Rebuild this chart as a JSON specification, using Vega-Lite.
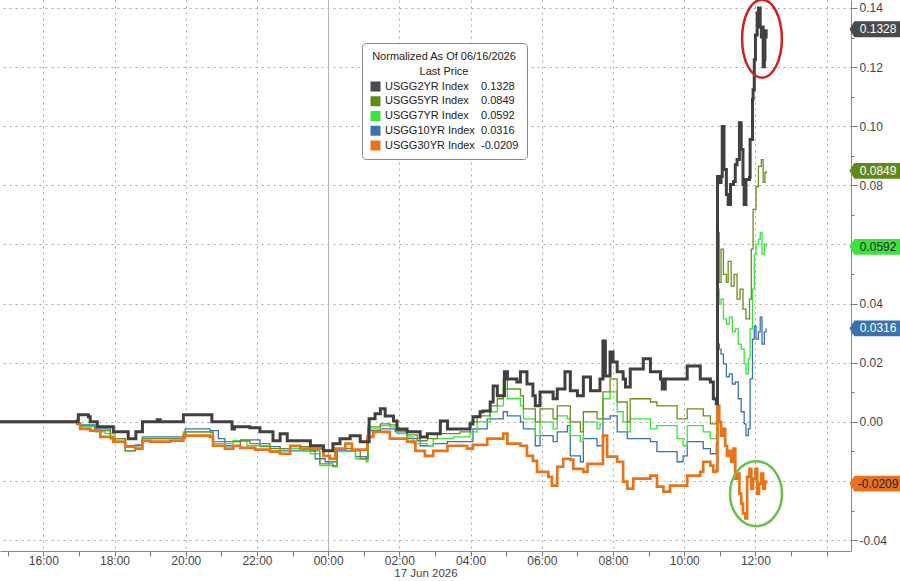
{
"$schema":"https://vega.github.io/schema/vega-lite/v6.json",
"width":851,"height":551,
"autosize":{"type":"none"},
"padding":{"left":0,"top":0,"right":49,"bottom":30},
"background":"white",
"config":{"view":{"stroke":null},"font":"Liberation Sans","axis":{"labelFont":"Liberation Sans Narrow, Liberation Sans","titleFont":"Liberation Sans Narrow, Liberation Sans"}},
"resolve":{"axis":{"x":"independent","y":"independent"}},
"datasets":{
"y2":[{"t":"2026-06-16T14:47","v":0},{"t":"2026-06-16T16:57","v":0.0003},{"t":"2026-06-16T16:59","v":0.0024},{"t":"2026-06-16T17:16","v":0.0017},{"t":"2026-06-16T17:19","v":0},{"t":"2026-06-16T17:31","v":-0.0017},{"t":"2026-06-16T17:58","v":-0.0034},{"t":"2026-06-16T18:23","v":-0.0057},{"t":"2026-06-16T18:36","v":-0.0034},{"t":"2026-06-16T18:47","v":0},{"t":"2026-06-16T19:12","v":0.0007},{"t":"2026-06-16T19:17","v":0},{"t":"2026-06-16T19:54","v":0},{"t":"2026-06-16T19:56","v":0.0024},{"t":"2026-06-16T20:41","v":0.0024},{"t":"2026-06-16T20:44","v":0},{"t":"2026-06-16T21:15","v":0},{"t":"2026-06-16T21:18","v":-0.0024},{"t":"2026-06-16T21:22","v":-0.0017},{"t":"2026-06-16T21:45","v":-0.0017},{"t":"2026-06-16T21:48","v":-0.002},{"t":"2026-06-16T22:05","v":-0.0034},{"t":"2026-06-16T22:27","v":-0.0064},{"t":"2026-06-16T22:39","v":-0.004},{"t":"2026-06-16T22:51","v":-0.0064},{"t":"2026-06-16T23:30","v":-0.0081},{"t":"2026-06-16T23:52","v":-0.0098},{"t":"2026-06-17T00:03","v":-0.0098},{"t":"2026-06-17T00:08","v":-0.0074},{"t":"2026-06-17T00:20","v":-0.0057},{"t":"2026-06-17T00:37","v":-0.0047},{"t":"2026-06-17T00:54","v":-0.0067},{"t":"2026-06-17T01:07","v":-0.0067},{"t":"2026-06-17T01:09","v":0.001},{"t":"2026-06-17T01:19","v":0.0027},{"t":"2026-06-17T01:28","v":0.0044},{"t":"2026-06-17T01:36","v":0.002},{"t":"2026-06-17T01:50","v":0.0003},{"t":"2026-06-17T01:56","v":-0.0024},{"t":"2026-06-17T02:13","v":-0.0034},{"t":"2026-06-17T02:35","v":-0.0051},{"t":"2026-06-17T02:47","v":-0.004},{"t":"2026-06-17T03:09","v":0.0003},{"t":"2026-06-17T03:21","v":-0.0024},{"t":"2026-06-17T03:54","v":-0.0024},{"t":"2026-06-17T03:59","v":-0.0007},{"t":"2026-06-17T04:04","v":0.0017},{"t":"2026-06-17T04:16","v":0.0034},{"t":"2026-06-17T04:21","v":0.0037},{"t":"2026-06-17T04:33","v":0.0067},{"t":"2026-06-17T04:38","v":0.0121},{"t":"2026-06-17T04:45","v":0.0088},{"t":"2026-06-17T04:55","v":0.0088},{"t":"2026-06-17T04:57","v":0.0169},{"t":"2026-06-17T05:02","v":0.0145},{"t":"2026-06-17T05:18","v":0.0135},{"t":"2026-06-17T05:24","v":0.0169},{"t":"2026-06-17T05:29","v":0.0169},{"t":"2026-06-17T05:35","v":0.0128},{"t":"2026-06-17T05:45","v":0.0088},{"t":"2026-06-17T05:49","v":0.0054},{"t":"2026-06-17T05:57","v":0.0101},{"t":"2026-06-17T06:19","v":0.0078},{"t":"2026-06-17T06:26","v":0.0111},{"t":"2026-06-17T06:36","v":0.0111},{"t":"2026-06-17T06:39","v":0.0169},{"t":"2026-06-17T06:48","v":0.0105},{"t":"2026-06-17T07:00","v":0.0088},{"t":"2026-06-17T07:10","v":0.0152},{"t":"2026-06-17T07:22","v":0.0105},{"t":"2026-06-17T07:33","v":0.0105},{"t":"2026-06-17T07:38","v":0.0145},{"t":"2026-06-17T07:43","v":0.0273},{"t":"2026-06-17T07:47","v":0.0155},{"t":"2026-06-17T07:55","v":0.0236},{"t":"2026-06-17T08:00","v":0.0202},{"t":"2026-06-17T08:07","v":0.0169},{"t":"2026-06-17T08:17","v":0.0145},{"t":"2026-06-17T08:21","v":0.0118},{"t":"2026-06-17T08:29","v":0.0179},{"t":"2026-06-17T08:51","v":0.0213},{"t":"2026-06-17T09:03","v":0.0169},{"t":"2026-06-17T09:20","v":0.0145},{"t":"2026-06-17T09:23","v":0.0111},{"t":"2026-06-17T09:28","v":0.0145},{"t":"2026-06-17T09:58","v":0.0145},{"t":"2026-06-17T10:05","v":0.0189},{"t":"2026-06-17T10:22","v":0.0189},{"t":"2026-06-17T10:27","v":0.0145},{"t":"2026-06-17T10:44","v":0.0135},{"t":"2026-06-17T10:49","v":0.0078},{"t":"2026-06-17T10:54","v":0.0061},{"t":"2026-06-17T10:56","v":0.083},{"t":"2026-06-17T10:59","v":0.081},{"t":"2026-06-17T11:02","v":0.083},{"t":"2026-06-17T11:04","v":0.0999},{"t":"2026-06-17T11:07","v":0.0854},{"t":"2026-06-17T11:11","v":0.0769},{"t":"2026-06-17T11:14","v":0.0735},{"t":"2026-06-17T11:18","v":0.0803},{"t":"2026-06-17T11:23","v":0.0813},{"t":"2026-06-17T11:26","v":0.087},{"t":"2026-06-17T11:29","v":0.0887},{"t":"2026-06-17T11:33","v":0.1012},{"t":"2026-06-17T11:36","v":0.0921},{"t":"2026-06-17T11:39","v":0.0803},{"t":"2026-06-17T11:41","v":0.0735},{"t":"2026-06-17T11:44","v":0.082},{"t":"2026-06-17T11:50","v":0.0827},{"t":"2026-06-17T11:51","v":0.0955},{"t":"2026-06-17T11:55","v":0.109},{"t":"2026-06-17T11:56","v":0.1123},{"t":"2026-06-17T11:58","v":0.1225},{"t":"2026-06-17T12:00","v":0.1309},{"t":"2026-06-17T12:03","v":0.1383},{"t":"2026-06-17T12:05","v":0.14},{"t":"2026-06-17T12:08","v":0.1336},{"t":"2026-06-17T12:10","v":0.1302},{"t":"2026-06-17T12:11","v":0.1336},{"t":"2026-06-17T12:13","v":0.1201},{"t":"2026-06-17T12:15","v":0.1225},{"t":"2026-06-17T12:16","v":0.1302},{"t":"2026-06-17T12:18","v":0.1328}],
"y5":[{"t":"2026-06-16T14:47","v":0},{"t":"2026-06-16T16:57","v":-0.0003},{"t":"2026-06-16T17:02","v":-0.0013},{"t":"2026-06-16T17:27","v":-0.003},{"t":"2026-06-16T17:53","v":-0.0057},{"t":"2026-06-16T18:18","v":-0.0098},{"t":"2026-06-16T18:35","v":-0.0081},{"t":"2026-06-16T18:47","v":-0.0057},{"t":"2026-06-16T19:54","v":-0.0057},{"t":"2026-06-16T19:59","v":-0.0034},{"t":"2026-06-16T20:41","v":-0.0034},{"t":"2026-06-16T20:46","v":-0.0067},{"t":"2026-06-16T21:32","v":-0.0064},{"t":"2026-06-16T21:48","v":-0.0074},{"t":"2026-06-16T22:22","v":-0.0091},{"t":"2026-06-16T22:56","v":-0.0084},{"t":"2026-06-16T23:30","v":-0.0098},{"t":"2026-06-16T23:46","v":-0.0142},{"t":"2026-06-17T00:08","v":-0.0148},{"t":"2026-06-17T00:15","v":-0.0091},{"t":"2026-06-17T00:40","v":-0.0098},{"t":"2026-06-17T00:54","v":-0.0125},{"t":"2026-06-17T01:04","v":-0.0125},{"t":"2026-06-17T01:07","v":-0.0017},{"t":"2026-06-17T01:28","v":-0.0007},{"t":"2026-06-17T01:44","v":-0.001},{"t":"2026-06-17T01:56","v":-0.003},{"t":"2026-06-17T02:13","v":-0.0044},{"t":"2026-06-17T02:30","v":-0.0064},{"t":"2026-06-17T02:47","v":-0.0057},{"t":"2026-06-17T03:04","v":-0.004},{"t":"2026-06-17T03:42","v":-0.0034},{"t":"2026-06-17T03:59","v":0},{"t":"2026-06-17T04:11","v":0.002},{"t":"2026-06-17T04:33","v":0.0054},{"t":"2026-06-17T04:45","v":0.0078},{"t":"2026-06-17T04:55","v":0.0145},{"t":"2026-06-17T05:02","v":0.0111},{"t":"2026-06-17T05:24","v":0.0088},{"t":"2026-06-17T05:29","v":0.0044},{"t":"2026-06-17T05:49","v":0},{"t":"2026-06-17T05:57","v":0.0044},{"t":"2026-06-17T06:19","v":0.001},{"t":"2026-06-17T06:26","v":0.0054},{"t":"2026-06-17T06:43","v":0.0054},{"t":"2026-06-17T06:48","v":0},{"t":"2026-06-17T07:05","v":-0.0034},{"t":"2026-06-17T07:10","v":0.0034},{"t":"2026-06-17T07:33","v":0.001},{"t":"2026-06-17T07:43","v":0.0101},{"t":"2026-06-17T07:55","v":0.0145},{"t":"2026-06-17T08:07","v":0.0067},{"t":"2026-06-17T08:24","v":0},{"t":"2026-06-17T08:29","v":0.0078},{"t":"2026-06-17T09:03","v":0.0067},{"t":"2026-06-17T09:14","v":0.0054},{"t":"2026-06-17T09:48","v":0.001},{"t":"2026-06-17T10:05","v":0.0044},{"t":"2026-06-17T10:32","v":0.002},{"t":"2026-06-17T10:44","v":-0.0007},{"t":"2026-06-17T10:54","v":0.0003},{"t":"2026-06-17T10:56","v":0.0641},{"t":"2026-06-17T10:59","v":0.0472},{"t":"2026-06-17T11:02","v":0.0584},{"t":"2026-06-17T11:06","v":0.0499},{"t":"2026-06-17T11:11","v":0.0472},{"t":"2026-06-17T11:14","v":0.0543},{"t":"2026-06-17T11:19","v":0.0459},{"t":"2026-06-17T11:24","v":0.0499},{"t":"2026-06-17T11:29","v":0.0415},{"t":"2026-06-17T11:34","v":0.0449},{"t":"2026-06-17T11:39","v":0.0381},{"t":"2026-06-17T11:44","v":0.0348},{"t":"2026-06-17T11:50","v":0.0415},{"t":"2026-06-17T11:53","v":0.0584},{"t":"2026-06-17T11:56","v":0.0719},{"t":"2026-06-17T12:01","v":0.0796},{"t":"2026-06-17T12:05","v":0.0864},{"t":"2026-06-17T12:10","v":0.0887},{"t":"2026-06-17T12:13","v":0.081},{"t":"2026-06-17T12:16","v":0.0843},{"t":"2026-06-17T12:18","v":0.0849}],
"y7":[{"t":"2026-06-16T14:47","v":0},{"t":"2026-06-16T16:57","v":-0.0003},{"t":"2026-06-16T17:02","v":-0.0017},{"t":"2026-06-16T17:27","v":-0.0034},{"t":"2026-06-16T17:44","v":-0.004},{"t":"2026-06-16T18:01","v":-0.0067},{"t":"2026-06-16T18:18","v":-0.0098},{"t":"2026-06-16T18:35","v":-0.0091},{"t":"2026-06-16T18:47","v":-0.0057},{"t":"2026-06-16T19:51","v":-0.0057},{"t":"2026-06-16T19:56","v":-0.0034},{"t":"2026-06-16T20:41","v":-0.0037},{"t":"2026-06-16T20:46","v":-0.0074},{"t":"2026-06-16T21:15","v":-0.0074},{"t":"2026-06-16T21:20","v":-0.0064},{"t":"2026-06-16T21:32","v":-0.0064},{"t":"2026-06-16T21:43","v":-0.0081},{"t":"2026-06-16T22:22","v":-0.0098},{"t":"2026-06-16T22:44","v":-0.0091},{"t":"2026-06-16T23:13","v":-0.0098},{"t":"2026-06-16T23:30","v":-0.0108},{"t":"2026-06-16T23:46","v":-0.0148},{"t":"2026-06-17T00:08","v":-0.0152},{"t":"2026-06-17T00:15","v":-0.0101},{"t":"2026-06-17T00:37","v":-0.0098},{"t":"2026-06-17T00:46","v":-0.0125},{"t":"2026-06-17T01:04","v":-0.0135},{"t":"2026-06-17T01:07","v":-0.0024},{"t":"2026-06-17T01:28","v":-0.0013},{"t":"2026-06-17T01:44","v":-0.0017},{"t":"2026-06-17T01:56","v":-0.004},{"t":"2026-06-17T02:13","v":-0.0051},{"t":"2026-06-17T02:23","v":-0.0074},{"t":"2026-06-17T02:47","v":-0.0081},{"t":"2026-06-17T02:57","v":-0.0057},{"t":"2026-06-17T03:31","v":-0.0051},{"t":"2026-06-17T03:48","v":-0.0051},{"t":"2026-06-17T03:59","v":-0.0034},{"t":"2026-06-17T04:11","v":0},{"t":"2026-06-17T04:33","v":0.0034},{"t":"2026-06-17T04:45","v":0.0054},{"t":"2026-06-17T04:55","v":0.0111},{"t":"2026-06-17T05:02","v":0.0078},{"t":"2026-06-17T05:24","v":0.0054},{"t":"2026-06-17T05:29","v":0.001},{"t":"2026-06-17T05:49","v":-0.0047},{"t":"2026-06-17T05:57","v":0},{"t":"2026-06-17T06:19","v":-0.0024},{"t":"2026-06-17T06:26","v":0.002},{"t":"2026-06-17T06:43","v":0.001},{"t":"2026-06-17T06:48","v":-0.0047},{"t":"2026-06-17T07:05","v":-0.0067},{"t":"2026-06-17T07:10","v":0},{"t":"2026-06-17T07:33","v":-0.0024},{"t":"2026-06-17T07:38","v":-0.0007},{"t":"2026-06-17T07:43","v":0.0078},{"t":"2026-06-17T07:55","v":0.0101},{"t":"2026-06-17T08:07","v":0.0034},{"t":"2026-06-17T08:17","v":0},{"t":"2026-06-17T08:24","v":-0.0034},{"t":"2026-06-17T08:29","v":0.001},{"t":"2026-06-17T09:03","v":-0.0024},{"t":"2026-06-17T09:14","v":-0.0013},{"t":"2026-06-17T09:48","v":-0.0057},{"t":"2026-06-17T09:58","v":-0.0081},{"t":"2026-06-17T10:05","v":-0.0013},{"t":"2026-06-17T10:32","v":-0.0034},{"t":"2026-06-17T10:44","v":-0.0057},{"t":"2026-06-17T10:54","v":-0.0044},{"t":"2026-06-17T10:56","v":0.0449},{"t":"2026-06-17T10:59","v":0.0398},{"t":"2026-06-17T11:02","v":0.0415},{"t":"2026-06-17T11:06","v":0.0348},{"t":"2026-06-17T11:11","v":0.0331},{"t":"2026-06-17T11:16","v":0.0354},{"t":"2026-06-17T11:21","v":0.0304},{"t":"2026-06-17T11:26","v":0.0314},{"t":"2026-06-17T11:31","v":0.0263},{"t":"2026-06-17T11:36","v":0.0246},{"t":"2026-06-17T11:41","v":0.0196},{"t":"2026-06-17T11:44","v":0.0162},{"t":"2026-06-17T11:48","v":0.0213},{"t":"2026-06-17T11:51","v":0.0314},{"t":"2026-06-17T11:55","v":0.0449},{"t":"2026-06-17T11:58","v":0.0567},{"t":"2026-06-17T12:01","v":0.0601},{"t":"2026-06-17T12:05","v":0.0617},{"t":"2026-06-17T12:08","v":0.0641},{"t":"2026-06-17T12:11","v":0.0567},{"t":"2026-06-17T12:15","v":0.0601},{"t":"2026-06-17T12:18","v":0.0592}],
"y10":[{"t":"2026-06-16T14:47","v":0},{"t":"2026-06-16T16:57","v":-0.0003},{"t":"2026-06-16T17:02","v":-0.001},{"t":"2026-06-16T17:27","v":-0.0024},{"t":"2026-06-16T17:53","v":-0.0057},{"t":"2026-06-16T18:18","v":-0.0081},{"t":"2026-06-16T18:35","v":-0.0078},{"t":"2026-06-16T18:47","v":-0.0051},{"t":"2026-06-16T19:54","v":-0.0051},{"t":"2026-06-16T19:59","v":-0.0024},{"t":"2026-06-16T20:41","v":-0.003},{"t":"2026-06-16T20:55","v":-0.0057},{"t":"2026-06-16T21:06","v":-0.0081},{"t":"2026-06-16T21:32","v":-0.0061},{"t":"2026-06-16T22:05","v":-0.0084},{"t":"2026-06-16T22:39","v":-0.0098},{"t":"2026-06-16T23:13","v":-0.0098},{"t":"2026-06-16T23:38","v":-0.0125},{"t":"2026-06-16T23:55","v":-0.0135},{"t":"2026-06-17T00:08","v":-0.0135},{"t":"2026-06-17T00:15","v":-0.0098},{"t":"2026-06-17T00:46","v":-0.0118},{"t":"2026-06-17T01:04","v":-0.0125},{"t":"2026-06-17T01:07","v":-0.003},{"t":"2026-06-17T01:28","v":-0.0024},{"t":"2026-06-17T01:53","v":-0.0034},{"t":"2026-06-17T02:13","v":-0.0057},{"t":"2026-06-17T02:35","v":-0.0081},{"t":"2026-06-17T02:57","v":-0.0074},{"t":"2026-06-17T03:21","v":-0.0067},{"t":"2026-06-17T03:54","v":-0.0067},{"t":"2026-06-17T04:04","v":-0.0024},{"t":"2026-06-17T04:28","v":0.001},{"t":"2026-06-17T04:33","v":0.001},{"t":"2026-06-17T04:55","v":0.0034},{"t":"2026-06-17T05:02","v":0.002},{"t":"2026-06-17T05:24","v":0},{"t":"2026-06-17T05:29","v":-0.0024},{"t":"2026-06-17T05:49","v":-0.0081},{"t":"2026-06-17T05:57","v":-0.0047},{"t":"2026-06-17T06:19","v":-0.0067},{"t":"2026-06-17T06:26","v":-0.0034},{"t":"2026-06-17T06:43","v":-0.0013},{"t":"2026-06-17T06:48","v":-0.0115},{"t":"2026-06-17T07:05","v":-0.0135},{"t":"2026-06-17T07:10","v":-0.0057},{"t":"2026-06-17T07:33","v":-0.0081},{"t":"2026-06-17T07:43","v":0.001},{"t":"2026-06-17T07:55","v":0.002},{"t":"2026-06-17T08:07","v":-0.0034},{"t":"2026-06-17T08:24","v":-0.0057},{"t":"2026-06-17T08:34","v":-0.0057},{"t":"2026-06-17T09:03","v":-0.0067},{"t":"2026-06-17T09:14","v":-0.0101},{"t":"2026-06-17T09:48","v":-0.0135},{"t":"2026-06-17T09:58","v":-0.0115},{"t":"2026-06-17T10:05","v":-0.0067},{"t":"2026-06-17T10:32","v":-0.0091},{"t":"2026-06-17T10:44","v":-0.0108},{"t":"2026-06-17T10:54","v":-0.0074},{"t":"2026-06-17T10:56","v":0.0263},{"t":"2026-06-17T10:59","v":0.0246},{"t":"2026-06-17T11:02","v":0.0229},{"t":"2026-06-17T11:06","v":0.0196},{"t":"2026-06-17T11:11","v":0.0152},{"t":"2026-06-17T11:16","v":0.0162},{"t":"2026-06-17T11:21","v":0.0128},{"t":"2026-06-17T11:26","v":0.0135},{"t":"2026-06-17T11:31","v":0.0078},{"t":"2026-06-17T11:36","v":0.0034},{"t":"2026-06-17T11:41","v":-0.0007},{"t":"2026-06-17T11:44","v":-0.0047},{"t":"2026-06-17T11:48","v":-0.0024},{"t":"2026-06-17T11:51","v":0.0145},{"t":"2026-06-17T11:55","v":0.028},{"t":"2026-06-17T11:58","v":0.0324},{"t":"2026-06-17T12:01","v":0.028},{"t":"2026-06-17T12:05","v":0.0304},{"t":"2026-06-17T12:08","v":0.0354},{"t":"2026-06-17T12:11","v":0.0263},{"t":"2026-06-17T12:15","v":0.0304},{"t":"2026-06-17T12:18","v":0.0316}],
"y30":[{"t":"2026-06-16T14:47","v":0},{"t":"2026-06-16T16:57","v":-0.0007},{"t":"2026-06-16T17:02","v":-0.0024},{"t":"2026-06-16T17:19","v":-0.003},{"t":"2026-06-16T17:36","v":-0.0051},{"t":"2026-06-16T17:58","v":-0.0067},{"t":"2026-06-16T18:18","v":-0.0084},{"t":"2026-06-16T18:35","v":-0.0091},{"t":"2026-06-16T18:47","v":-0.0064},{"t":"2026-06-16T19:00","v":-0.0067},{"t":"2026-06-16T19:34","v":-0.0064},{"t":"2026-06-16T19:56","v":-0.0047},{"t":"2026-06-16T20:41","v":-0.0051},{"t":"2026-06-16T20:46","v":-0.0081},{"t":"2026-06-16T21:06","v":-0.0091},{"t":"2026-06-16T21:20","v":-0.0081},{"t":"2026-06-16T21:32","v":-0.0088},{"t":"2026-06-16T21:57","v":-0.0094},{"t":"2026-06-16T22:22","v":-0.0101},{"t":"2026-06-16T22:39","v":-0.0108},{"t":"2026-06-16T22:56","v":-0.0081},{"t":"2026-06-16T23:13","v":-0.0091},{"t":"2026-06-16T23:38","v":-0.0091},{"t":"2026-06-16T23:52","v":-0.0115},{"t":"2026-06-17T00:03","v":-0.0125},{"t":"2026-06-17T00:12","v":-0.0091},{"t":"2026-06-17T00:29","v":-0.0074},{"t":"2026-06-17T00:40","v":-0.0094},{"t":"2026-06-17T00:59","v":-0.0094},{"t":"2026-06-17T01:06","v":-0.0051},{"t":"2026-06-17T01:16","v":-0.0034},{"t":"2026-06-17T01:39","v":-0.0034},{"t":"2026-06-17T01:44","v":-0.0057},{"t":"2026-06-17T02:13","v":-0.0067},{"t":"2026-06-17T02:27","v":-0.0098},{"t":"2026-06-17T02:43","v":-0.0115},{"t":"2026-06-17T02:57","v":-0.0098},{"t":"2026-06-17T03:21","v":-0.0081},{"t":"2026-06-17T03:54","v":-0.0091},{"t":"2026-06-17T04:04","v":-0.0078},{"t":"2026-06-17T04:28","v":-0.0057},{"t":"2026-06-17T04:50","v":-0.0057},{"t":"2026-06-17T04:55","v":-0.004},{"t":"2026-06-17T05:02","v":-0.0074},{"t":"2026-06-17T05:24","v":-0.0081},{"t":"2026-06-17T05:35","v":-0.0115},{"t":"2026-06-17T05:45","v":-0.0132},{"t":"2026-06-17T05:52","v":-0.0169},{"t":"2026-06-17T06:11","v":-0.0186},{"t":"2026-06-17T06:17","v":-0.0216},{"t":"2026-06-17T06:26","v":-0.0152},{"t":"2026-06-17T06:36","v":-0.0125},{"t":"2026-06-17T06:48","v":-0.0128},{"t":"2026-06-17T06:53","v":-0.0159},{"t":"2026-06-17T07:10","v":-0.0169},{"t":"2026-06-17T07:17","v":-0.0142},{"t":"2026-06-17T07:38","v":-0.0142},{"t":"2026-06-17T07:43","v":-0.0047},{"t":"2026-06-17T07:50","v":-0.0118},{"t":"2026-06-17T08:07","v":-0.0135},{"t":"2026-06-17T08:17","v":-0.0202},{"t":"2026-06-17T08:24","v":-0.0226},{"t":"2026-06-17T08:34","v":-0.0192},{"t":"2026-06-17T09:03","v":-0.0182},{"t":"2026-06-17T09:14","v":-0.0219},{"t":"2026-06-17T09:25","v":-0.0236},{"t":"2026-06-17T09:36","v":-0.0216},{"t":"2026-06-17T09:58","v":-0.0216},{"t":"2026-06-17T10:05","v":-0.0182},{"t":"2026-06-17T10:27","v":-0.0169},{"t":"2026-06-17T10:32","v":-0.0135},{"t":"2026-06-17T10:44","v":-0.0148},{"t":"2026-06-17T10:49","v":-0.0169},{"t":"2026-06-17T10:54","v":-0.0165},{"t":"2026-06-17T10:56","v":0.0054},{"t":"2026-06-17T10:59","v":0},{"t":"2026-06-17T11:02","v":-0.0047},{"t":"2026-06-17T11:06","v":-0.0024},{"t":"2026-06-17T11:09","v":-0.0081},{"t":"2026-06-17T11:12","v":-0.0115},{"t":"2026-06-17T11:16","v":-0.0098},{"t":"2026-06-17T11:19","v":-0.0135},{"t":"2026-06-17T11:23","v":-0.0091},{"t":"2026-06-17T11:26","v":-0.0192},{"t":"2026-06-17T11:29","v":-0.0175},{"t":"2026-06-17T11:33","v":-0.0243},{"t":"2026-06-17T11:36","v":-0.0277},{"t":"2026-06-17T11:39","v":-0.031},{"t":"2026-06-17T11:43","v":-0.0327},{"t":"2026-06-17T11:46","v":-0.0186},{"t":"2026-06-17T11:50","v":-0.0159},{"t":"2026-06-17T11:53","v":-0.0226},{"t":"2026-06-17T11:56","v":-0.0192},{"t":"2026-06-17T12:00","v":-0.0159},{"t":"2026-06-17T12:03","v":-0.0243},{"t":"2026-06-17T12:06","v":-0.0209},{"t":"2026-06-17T12:10","v":-0.0175},{"t":"2026-06-17T12:13","v":-0.0226},{"t":"2026-06-17T12:16","v":-0.0202},{"t":"2026-06-17T12:18","v":-0.0209}],
"last":[{"s":"USGG2YR Index","v":0.1328},{"s":"USGG5YR Index","v":0.0849},{"s":"USGG7YR Index","v":0.0592},{"s":"USGG10YR Index","v":0.0316},{"s":"USGG30YR Index","v":-0.0209}]
},
"layer":[
{"encoding":{
"x":{"field":"t","type":"temporal","title":"17 Jun 2026",
"scale":{"domain":[{"year":2026,"month":6,"date":16,"hours":14,"minutes":47},{"year":2026,"month":6,"date":17,"hours":14,"minutes":41}]},
"axis":{"values":[{"year":2026,"month":6,"date":16,"hours":15},{"year":2026,"month":6,"date":16,"hours":16},{"year":2026,"month":6,"date":16,"hours":17},{"year":2026,"month":6,"date":16,"hours":18},{"year":2026,"month":6,"date":16,"hours":19},{"year":2026,"month":6,"date":16,"hours":20},{"year":2026,"month":6,"date":16,"hours":21},{"year":2026,"month":6,"date":16,"hours":22},{"year":2026,"month":6,"date":16,"hours":23},{"year":2026,"month":6,"date":17,"hours":0},{"year":2026,"month":6,"date":17,"hours":1},{"year":2026,"month":6,"date":17,"hours":2},{"year":2026,"month":6,"date":17,"hours":3},{"year":2026,"month":6,"date":17,"hours":4},{"year":2026,"month":6,"date":17,"hours":5},{"year":2026,"month":6,"date":17,"hours":6},{"year":2026,"month":6,"date":17,"hours":7},{"year":2026,"month":6,"date":17,"hours":8},{"year":2026,"month":6,"date":17,"hours":9},{"year":2026,"month":6,"date":17,"hours":10},{"year":2026,"month":6,"date":17,"hours":11},{"year":2026,"month":6,"date":17,"hours":12},{"year":2026,"month":6,"date":17,"hours":13},{"year":2026,"month":6,"date":17,"hours":14}],
"labelExpr":"hours(datum.value) % 2 == 0 && hours(datum.value) != 14 ? timeFormat(datum.value, '%H:%M') : ''",
"grid":true,
"gridOpacity":{"condition":{"test":"hours(datum.value) % 2 == 1","value":0},"value":1},
"gridDash":{"condition":{"test":"hours(datum.value) == 0","value":[1,0]},"value":[2,4]},
"gridColor":{"condition":{"test":"hours(datum.value) == 0","value":"#9a9a9a"},"value":"#a8a8a8"},
"tickSize":5,"tickColor":"#777","domainColor":"#888","labelColor":"#444","labelFontSize":12,"labelPadding":-1,"labelOverlap":false,"labelFlush":false,
"titleFontSize":11.5,"titleFontWeight":"normal","titleColor":"#444","titlePadding":1}},
"y":{"field":"v","type":"quantitative","title":null,
"scale":{"domain":[-0.0437,0.1427],"nice":false,"zero":false},
"axis":{"orient":"right","values":[-0.04,-0.03,-0.02,-0.01,0,0.01,0.02,0.03,0.04,0.05,0.06,0.07,0.08,0.09,0.1,0.11,0.12,0.13,0.14],
"labelExpr":"abs(round(datum.value*100)) % 2 == 0 && abs(round(datum.value*100)) != 6 && round(datum.value*100) != -2 ? replace(format(datum.value, '.2f'), '\u2212', '-') : ''",
"grid":true,
"gridOpacity":{"condition":{"test":"abs(round(datum.value*100)) % 2 == 1","value":0},"value":1},
"gridDash":[2,4],"gridColor":"#a8a8a8",
"tickSize":{"condition":{"test":"abs(round(datum.value*100)) % 2 == 1","value":3},"value":6},
"tickColor":"#777","domainColor":"#888","labelColor":"#444","labelFontSize":12,"labelPadding":2,"labelOverlap":false,"labelFlush":false}}
},
"layer":[
{"data":{"name":"y10"},"mark":{"type":"line","color":"#3a72b0","strokeWidth":1.3,"interpolate":"step-after"}},
{"data":{"name":"y7"},"mark":{"type":"line","color":"#3ce33c","strokeWidth":1.3,"interpolate":"step-after"}},
{"data":{"name":"y5"},"mark":{"type":"line","color":"#6a8f1f","strokeWidth":1.3,"interpolate":"step-after"}},
{"data":{"name":"y30"},"mark":{"type":"line","color":"#e8731a","strokeWidth":2.7,"interpolate":"step-after"}},
{"data":{"name":"y2"},"mark":{"type":"line","color":"#404040","strokeWidth":3,"interpolate":"step-after"}}
]},
{"data":{"name":"last"},
"mark":{"type":"point","filled":true,"opacity":1,"strokeWidth":0,"size":2304,"shape":"M-1.15,0 L-0.95,-0.33 L1,-0.33 L1,0.33 L-0.95,0.33 Z"},
"encoding":{"x":{"datum":{"year":2026,"month":6,"date":17,"hours":15,"minutes":25},"type":"temporal","axis":null},
"y":{"field":"v","type":"quantitative","axis":null},
"fill":{"field":"s","type":"nominal",
"scale":{"domain":["USGG2YR Index","USGG5YR Index","USGG7YR Index","USGG10YR Index","USGG30YR Index"],"range":["#4a4a4a","#5f8a1a","#3ce33c","#3a72b0","#e8731a"]},
"legend":{"orient":"none","legendX":362,"legendY":43,"title":["Normalized As Of 06/16/2026","Last Price"],
"titleFontWeight":"normal","titleFontSize":11,"titleColor":"#222","titleAnchor":"middle","titleAlign":"center","titleLineHeight":15,"titlePadding":4,
"labelFontSize":11,"labelColor":"#222","labelOffset":4,
"labelExpr":"datum.label == 'USGG2YR Index' ? 'USGG2YR Index\u00a0\u00a0\u00a0\u00a00.1328' : datum.label == 'USGG5YR Index' ? 'USGG5YR Index\u00a0\u00a0\u00a0\u00a00.0849' : datum.label == 'USGG7YR Index' ? 'USGG7YR Index\u00a0\u00a0\u00a0\u00a00.0592' : datum.label == 'USGG10YR Index' ? 'USGG10YR Index\u00a0\u00a00.0316' : 'USGG30YR Index\u00a0\u00a0-0.0209'",
"symbolType":"square","symbolSize":100,"symbolStrokeWidth":0,
"fillColor":"white","strokeColor":"#888","cornerRadius":4,"padding":8,"rowPadding":2.75,
"encode":{"symbols":{"update":{"shape":{"value":"square"},"size":{"value":100},"strokeWidth":{"value":0}}}}}}}},
{"data":{"name":"last"},
"mark":{"type":"text","fontSize":12,"align":"center","baseline":"middle","dx":1,"font":"Liberation Sans Narrow, Liberation Sans"},
"encoding":{"x":{"datum":{"year":2026,"month":6,"date":17,"hours":15,"minutes":25},"type":"temporal","axis":null},
"y":{"field":"v","type":"quantitative","axis":null},
"text":{"field":"v","type":"nominal"},
"color":{"condition":{"test":"datum.s == 'USGG7YR Index' || datum.s == 'USGG30YR Index'","value":"#222222"},"value":"#ffffff"}}},
{"data":{"values":[{}]},
"mark":{"type":"point","filled":false,"opacity":1,"stroke":"#cc2222","strokeWidth":2.5,"size":6084,"shape":"M0,-1 C0.2817,-1 0.51,-0.5523 0.51,0 C0.51,0.5523 0.2817,1 0,1 C-0.2817,1 -0.51,0.5523 -0.51,0 C-0.51,-0.5523 -0.2817,-1 0,-1 Z"},
"encoding":{"x":{"datum":{"year":2026,"month":6,"date":17,"hours":12,"minutes":11},"type":"temporal","axis":null},"y":{"datum":0.1296,"type":"quantitative","axis":null}}},
{"data":{"values":[{}]},
"mark":{"type":"point","filled":false,"opacity":1,"stroke":"#6cbf4a","strokeWidth":2.5,"size":4225,"shape":"M0,-1 C0.4418,-1 0.8,-0.5523 0.8,0 C0.8,0.5523 0.4418,1 0,1 C-0.4418,1 -0.8,0.5523 -0.8,0 C-0.8,-0.5523 -0.4418,-1 0,-1 Z"},
"encoding":{"x":{"datum":{"year":2026,"month":6,"date":17,"hours":12,"minutes":1},"type":"temporal","axis":null},"y":{"datum":-0.0243,"type":"quantitative","axis":null}}}
]
}
